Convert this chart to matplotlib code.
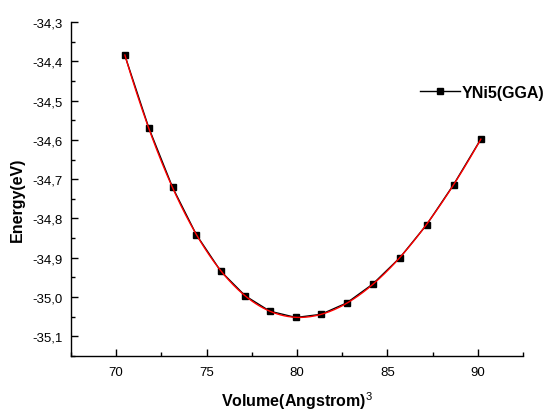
import numpy as np
import matplotlib
matplotlib.use("Agg")
import matplotlib.pyplot as plt
from matplotlib.ticker import MultipleLocator, FuncFormatter

volume = [70.48, 71.80, 73.12, 74.43, 75.78, 77.14, 78.50, 79.94,
          81.33, 82.75, 84.19, 85.69, 87.17, 88.66, 90.17]
energy = [-34.385, -34.569, -34.721, -34.841, -34.934, -34.997, -35.036, -35.052,
          -35.044, -35.015, -34.967, -34.900, -34.816, -34.714, -34.598]
series_label = "YNi5(GGA)"
x_label = "Volume(Angstrom)$^{3}$"
y_label = "Energy(eV)"

plt.rcParams['font.family'] = ['Liberation Sans', 'DejaVu Sans']
plt.rcParams['mathtext.fontset'] = 'custom'
plt.rcParams['mathtext.rm'] = 'Liberation Sans'
plt.rcParams['mathtext.it'] = 'Liberation Sans'
plt.rcParams['mathtext.bf'] = 'Liberation Sans:bold'

fig = plt.figure(figsize=(5.49, 4.10), dpi=100)
ax = fig.add_axes([0.1293, 0.1293, 0.9526 - 0.1293, 0.9439 - 0.1293])

v = np.array(volume)
e = np.array(energy)
ax.plot(v, e, color='black', lw=1.0, marker='s', markersize=4.5,
        markerfacecolor='black', markeredgecolor='black', label=series_label, zorder=3)
coef = np.polyfit(v, e, 4)
vf = np.linspace(v.min(), v.max(), 300)
ax.plot(vf, np.polyval(coef, vf), color='red', lw=1.0, zorder=4)

ax.set_xlim(67.5, 92.5)
ax.set_ylim(-35.15, -34.3)
ax.xaxis.set_major_locator(MultipleLocator(5))
ax.xaxis.set_minor_locator(MultipleLocator(2.5))
ax.yaxis.set_major_locator(MultipleLocator(0.1))
ax.yaxis.set_minor_locator(MultipleLocator(0.05))
ax.yaxis.set_major_formatter(FuncFormatter(lambda y, p: f"{y:.1f}".replace('.', ',')))
ax.xaxis.set_major_formatter(FuncFormatter(lambda x, p: f"{x:.0f}"))

for s in ['top', 'right']:
    ax.spines[s].set_visible(False)
for s in ['left', 'bottom']:
    ax.spines[s].set_linewidth(1.0)

ax.tick_params(which='major', direction='in', length=5, width=1.0, labelsize=9.5)
ax.tick_params(axis='x', which='major', pad=7)
ax.tick_params(axis='y', which='major', pad=6)
ax.tick_params(which='minor', direction='in', length=3, width=1.0)

ax.set_xlabel(x_label, fontsize=11.5, fontweight='bold', labelpad=8)
ax.set_ylabel(y_label, fontsize=11.5, fontweight='bold')
ax.yaxis.set_label_coords(-0.102, 0.47)

leg = fig.legend(loc='center left', bbox_to_anchor=(0.765, 0.773), frameon=False,
                 borderpad=0, borderaxespad=0,
                 handlelength=2.5, handletextpad=0.1, prop={'weight': 'bold', 'size': 11.5})

fig.savefig("out.png", dpi=100)
